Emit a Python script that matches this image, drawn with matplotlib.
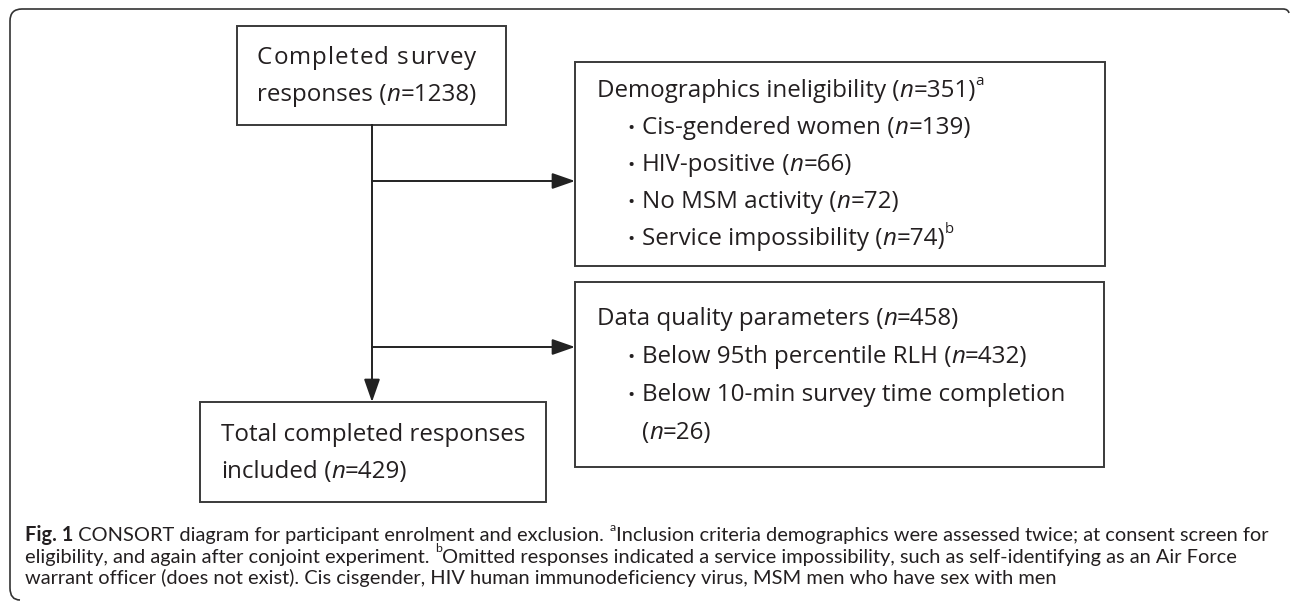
import matplotlib
matplotlib.use('Agg')
import matplotlib.pyplot as plt
from matplotlib.path import Path
from matplotlib.patches import PathPatch, Rectangle

# counts shown in the diagram
total_n = 1238
demo_n = 351
demo_items = ['Cis-gendered women', 'HIV-positive', 'No MSM activity', 'Service impossibility']
demo_counts = [139, 66, 72, 74]
quality_n = 458
quality_items = ['Below 95th percentile RLH', 'Below 10-min survey time completion']
quality_counts = [432, 26]
included_n = 429

caption_lines = [
    [('Fig. 1', 'b'), (' CONSORT diagram for participant enrolment and exclusion. ', 'r'), ('a', 'sup'),
     ('Inclusion criteria demographics were assessed twice; at consent screen for', 'r')],
    [('eligibility, and again after conjoint experiment. ', 'r'), ('b', 'sup'),
     ('Omitted responses indicated a service impossibility, such as self-identifying as an Air Force', 'r')],
    [('warrant officer (does not exist). Cis cisgender, HIV human immunodeficiency virus, MSM men who have sex with men', 'r')],
]

LINE = '#3a3a3a'
INK = '#231f20'
box_font = 'Open Sans'
cap_font = 'Lato'

fig = plt.figure(figsize=(12.9, 6.01), dpi=100)
ax = fig.add_axes([0, 0, 1, 1])
ax.set_xlim(0, 1290)
ax.set_ylim(601, 0)
ax.axis('off')
renderer = fig.canvas.get_renderer()


def text_w(s, **kw):
    t = ax.text(0, 0, '|' + s + '|', **kw)
    t0 = ax.text(0, 0, '||', **kw)
    w = t.get_window_extent(renderer).width - t0.get_window_extent(renderer).width
    t.remove()
    t0.remove()
    return w


def runs(x, y, parts, size, family):
    for s, kind in parts:
        kw = dict(fontsize=size, family=family, color=INK)
        dy = 0
        if kind == 'i':
            kw['style'] = 'italic'
        elif kind == 'b':
            kw['weight'] = 'bold'
        elif kind == 'sup':
            kw['fontsize'] = size * 0.62
            dy = -size * 0.5 * 100 / 72
        ax.text(x, y + dy, s, va='baseline', ha='left', **kw)
        x += text_w(s, **kw)
    return x


def justify(x0, x1, y, s, size, family):
    kw = dict(fontsize=size, family=family, color=INK)
    gap = (x1 - x0 - text_w(s, **kw)) / (len(s) - 1)
    for i, ch in enumerate(s):
        ax.text(x0 + text_w(s[:i], **kw) + gap * i, y, ch, va='baseline', ha='left', **kw)


def count(n, sup=None):
    parts = [(' (', 'r'), ('n', 'i'), ('=%d)' % n, 'r')]
    if sup:
        parts.append((sup, 'sup'))
    return parts


def bullet(y, size):
    ax.text(627, y, '\u2022', fontsize=size * 0.8, family=box_font, color=INK, va='baseline')


def box(x0, y0, x1, y1):
    ax.add_patch(Rectangle((x0, y0), x1 - x0, y1 - y0, fill=False, ec=LINE, lw=1.4))


def arrow(x0, y0, x1, y1):
    ax.annotate('', xy=(x1, y1), xytext=(x0, y0),
                arrowprops=dict(arrowstyle='-|>,head_length=1.0,head_width=0.35',
                                mutation_scale=14, color='#222222', lw=1.4,
                                shrinkA=0, shrinkB=0))


# fit box font so "Total completed responses" is ~305 px wide
fs = 16
fs = fs * 305 / text_w('Total completed responses', fontsize=fs, family=box_font)

# outer frame (top and left edge, rounded corners)
verts = [(1289, 13), (1288, 9), (1283, 9), (22, 9), (10, 9), (10, 21),
         (10, 588), (10, 600), (20, 600)]
codes = [Path.MOVETO, Path.CURVE3, Path.CURVE3, Path.LINETO, Path.CURVE3, Path.CURVE3,
         Path.LINETO, Path.CURVE3, Path.CURVE3]
ax.add_patch(PathPatch(Path(verts, codes), fill=False, ec='#333333', lw=1.2))

# boxes
box(237, 26, 506, 125)
box(575, 62, 1105, 266)
box(575, 282, 1104, 467)
box(200, 402, 546, 502)

# connectors
ax.plot([372, 372], [125, 390], color='#222222', lw=1.4)
arrow(372, 380, 372, 402)
arrow(372, 181, 575, 181)
arrow(372, 347, 575, 347)

# start box, first line letter-spaced to the width of the second
x_end = runs(257, 101, [('responses', 'r')] + count(total_n), fs, box_font)
justify(257, x_end, 64, 'Completed survey', fs, box_font)

# demographics box
step = 37
y = 97
runs(597, y, [('Demographics ineligibility', 'r')] + count(demo_n, 'a'), fs, box_font)
for i, (item, c) in enumerate(zip(demo_items, demo_counts)):
    yy = y + step * (i + 1)
    bullet(yy, fs)
    runs(642, yy, [(item, 'r')] + count(c, 'b' if i == len(demo_items) - 1 else None), fs, box_font)

# data quality box
step = 38
y = 325
runs(597, y, [('Data quality parameters', 'r')] + count(quality_n), fs, box_font)
bullet(y + step, fs)
runs(642, y + step, [(quality_items[0], 'r')] + count(quality_counts[0]), fs, box_font)
bullet(y + 2 * step, fs)
runs(642, y + 2 * step, [(quality_items[1], 'r')], fs, box_font)
runs(642, y + 3 * step, [('(', 'r'), ('n', 'i'), ('=%d)' % quality_counts[1], 'r')], fs, box_font)

# included box
runs(221, 441, [('Total completed responses', 'r')], fs, box_font)
runs(221, 478, [('included', 'r')] + count(included_n), fs, box_font)

# caption, sized so the first line spans the figure width
cs = 12
w1 = sum(text_w(s, fontsize=cs * (0.62 if k == 'sup' else 1), family=cap_font,
                weight='bold' if k == 'b' else 'normal') for s, k in caption_lines[0])
cs = cs * 1243 / w1
for i, parts in enumerate(caption_lines):
    runs(25, 541 + 21.5 * i, parts, cs, cap_font)

fig.savefig('out.png', dpi=100)
